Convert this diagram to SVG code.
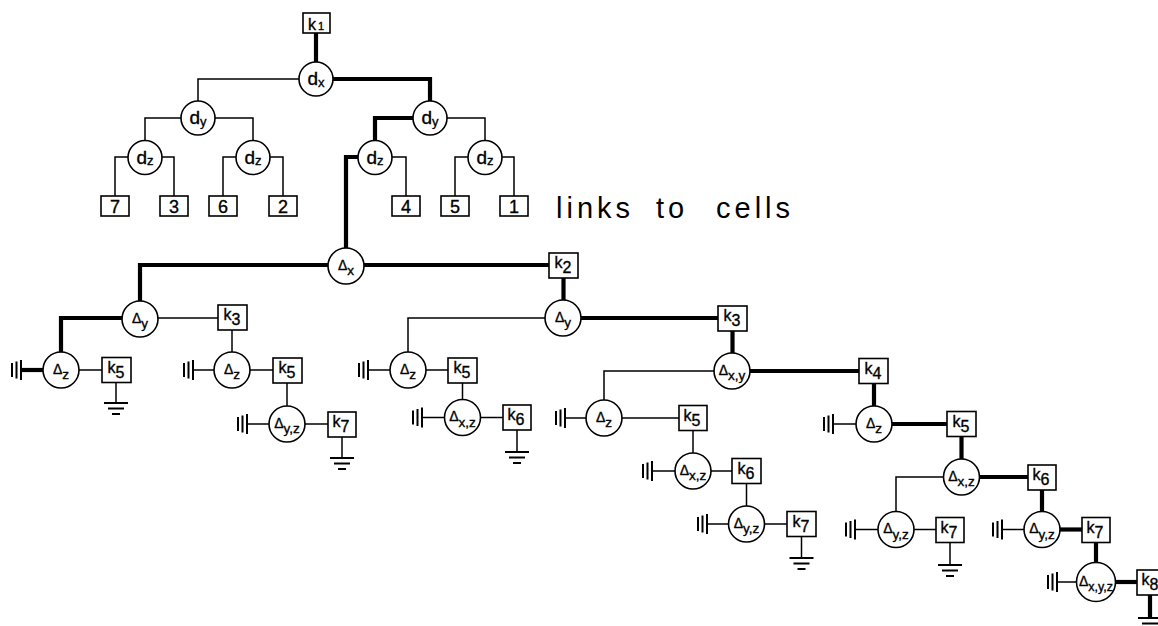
<svg xmlns="http://www.w3.org/2000/svg" xmlns:xlink="http://www.w3.org/1999/xlink" width="1158" height="626" viewBox="0 0 1158 626">
<style>
.bg{fill:#fff}
.c{fill:#fff;stroke:#000;stroke-width:1.6}
.b{fill:#fff;stroke:#000;stroke-width:1.6}
.t{fill:none;stroke:#000;stroke-width:1.5;stroke-linejoin:miter}
.T{fill:none;stroke:#000;stroke-width:4.2;stroke-linejoin:miter}
.g{fill:none;stroke:#000;stroke-width:2}
text{font-family:"Liberation Sans",Arial,sans-serif;fill:#000;text-anchor:middle;stroke:#000;stroke-width:0.35}
.dd{font-size:19px}
.ds{font-size:13px}
.D{font-size:14px}
.Ds{font-size:13.5px}
.Ds3{font-size:12.5px}
.k{font-size:16px}
.kd{font-size:16px}
.n{font-size:18px}
.cap{font-size:29px;letter-spacing:4px;text-anchor:start;stroke:none}
</style>
<defs>
<g id="gl"><path class="g" d="M0,-10V10M-4.5,-8.5V8.5M-9,-7V7"/></g>
<g id="gd"><path class="g" d="M-12,0H12M-8,5.5H8M-4,11H4"/></g>
</defs>
<rect class="bg" width="1158" height="626"/>
<g id="connectors">
<path class="T" d="M316,33V62"/>
<path class="t" d="M299,79H198V101"/>
<path class="T" d="M333,79H430V101"/>
<path class="t" d="M181,118H145V140.5"/>
<path class="t" d="M215,118H253V140.5"/>
<path class="T" d="M413,118H375V140.5"/>
<path class="t" d="M447,118H485V140.5"/>
<path class="t" d="M128,157H115V196"/>
<path class="t" d="M162,157H174V196"/>
<path class="t" d="M236,157H223V196"/>
<path class="t" d="M270,157H283V196"/>
<path class="T" d="M358,157H346V248"/>
<path class="t" d="M392,157H406V196"/>
<path class="t" d="M468,157H455V196"/>
<path class="t" d="M502,157H514V196"/>
<path class="T" d="M328,265H140V301"/>
<path class="T" d="M364,265H549"/>
<path class="T" d="M563.5,278V300"/>
<path class="T" d="M122,318H61V352"/>
<path class="t" d="M158,318H218"/>
<path class="t" d="M232,330V352"/>
<path class="t" d="M79,370H102"/>
<path class="t" d="M250,370H273"/>
<path class="T" d="M43,370H21"/>
<path class="t" d="M214,370H193"/>
<path class="t" d="M287,383V406"/>
<path class="t" d="M269,424H247"/>
<path class="t" d="M305,424H328"/>
<path class="t" d="M116,382.5V403"/>
<path class="t" d="M342,437V458"/>
<path class="t" d="M545,318H408V352"/>
<path class="t" d="M390,370H368"/>
<path class="t" d="M426,370H448"/>
<path class="t" d="M462.5,383V399.5"/>
<path class="t" d="M444.5,417.5H422"/>
<path class="t" d="M480.5,417.5H503"/>
<path class="t" d="M517,430V452"/>
<path class="T" d="M581,318H718"/>
<path class="T" d="M732.5,331V353"/>
<path class="t" d="M714,371H604V400"/>
<path class="t" d="M586,418H565"/>
<path class="t" d="M622,418H679"/>
<path class="t" d="M693,430.5V453"/>
<path class="t" d="M675,471H652"/>
<path class="t" d="M711,471H732"/>
<path class="t" d="M746.5,483.5V506"/>
<path class="t" d="M728.5,524H707"/>
<path class="t" d="M764.5,524H787"/>
<path class="t" d="M801.5,536.5V558"/>
<path class="T" d="M750,371H859"/>
<path class="T" d="M874,383.5V406"/>
<path class="t" d="M856,424H833"/>
<path class="T" d="M892,424H947"/>
<path class="T" d="M961.5,436.5V459"/>
<path class="t" d="M943.5,477H896V511.5"/>
<path class="t" d="M878,529.5H855"/>
<path class="t" d="M914,529.5H936"/>
<path class="t" d="M950,542.5V565"/>
<path class="T" d="M979.5,477H1028"/>
<path class="T" d="M1042,490V511.5"/>
<path class="t" d="M1024,529.5H1002"/>
<path class="T" d="M1060,529.5H1082"/>
<path class="T" d="M1096,542.5V562.5"/>
<path class="t" d="M1076.5,582H1057"/>
<path class="T" d="M1115.5,582H1137"/>
<path class="T" d="M1150,595V618"/>
</g>
<g id="grounds">
<use xlink:href="#gl" x="21" y="370"/>
<use xlink:href="#gl" x="193" y="370"/>
<use xlink:href="#gl" x="247" y="424"/>
<use xlink:href="#gl" x="368" y="370"/>
<use xlink:href="#gl" x="422" y="417.5"/>
<use xlink:href="#gl" x="565" y="418"/>
<use xlink:href="#gl" x="652" y="471"/>
<use xlink:href="#gl" x="707" y="524"/>
<use xlink:href="#gl" x="833" y="424"/>
<use xlink:href="#gl" x="855" y="529.5"/>
<use xlink:href="#gl" x="1002" y="529.5"/>
<use xlink:href="#gl" x="1057" y="582"/>
<use xlink:href="#gd" x="116" y="403"/>
<use xlink:href="#gd" x="342" y="458"/>
<use xlink:href="#gd" x="517" y="452"/>
<use xlink:href="#gd" x="801.5" y="558"/>
<use xlink:href="#gd" x="950" y="565"/>
<use xlink:href="#gd" x="1150" y="618"/>
</g>
<g id="k1"><rect class="b" x="303" y="13" width="27" height="20"/><text class="k" x="316" y="29.5">k<tspan style="font-size:11px" dx="2">1</tspan></text></g>
<g id="dx"><circle class="c" cx="316" cy="79" r="17"/><text class="dd" x="316" y="85">d<tspan class="ds" dy="1.5">x</tspan></text></g>
<g id="dy1"><circle class="c" cx="198" cy="118" r="17"/><text class="dd" x="198" y="124">d<tspan class="ds" dy="1.5">y</tspan></text></g>
<g id="dy2"><circle class="c" cx="430" cy="118" r="17"/><text class="dd" x="430" y="124">d<tspan class="ds" dy="1.5">y</tspan></text></g>
<g id="dz1"><circle class="c" cx="145" cy="157.5" r="17"/><text class="dd" x="145" y="163.5">d<tspan class="ds" dy="1.5">z</tspan></text></g>
<g id="dz2"><circle class="c" cx="253" cy="157.5" r="17"/><text class="dd" x="253" y="163.5">d<tspan class="ds" dy="1.5">z</tspan></text></g>
<g id="dz3"><circle class="c" cx="375" cy="157.5" r="17"/><text class="dd" x="375" y="163.5">d<tspan class="ds" dy="1.5">z</tspan></text></g>
<g id="dz4"><circle class="c" cx="485" cy="157.5" r="17"/><text class="dd" x="485" y="163.5">d<tspan class="ds" dy="1.5">z</tspan></text></g>
<g id="c7"><rect class="b" x="101" y="196" width="28" height="20"/><text class="n" x="115" y="213">7</text></g>
<g id="c3"><rect class="b" x="160" y="196" width="28" height="20"/><text class="n" x="174" y="213">3</text></g>
<g id="c6"><rect class="b" x="209" y="196" width="28" height="20"/><text class="n" x="223" y="213">6</text></g>
<g id="c2"><rect class="b" x="269" y="196" width="28" height="20"/><text class="n" x="283" y="213">2</text></g>
<g id="c4"><rect class="b" x="392" y="196" width="28" height="20"/><text class="n" x="406" y="213">4</text></g>
<g id="c5"><rect class="b" x="441" y="196" width="28" height="20"/><text class="n" x="455" y="213">5</text></g>
<g id="c1"><rect class="b" x="500" y="196" width="28" height="20"/><text class="n" x="514" y="213">1</text></g>
<g id="caption"><text class="cap" y="218"><tspan x="556">links</tspan> <tspan x="656">to</tspan> <tspan x="716">cells</tspan></text></g>
<g id="Dx"><circle class="c" cx="346" cy="266" r="18"/><text class="D" x="346" y="269.5">Δ<tspan class="Ds" dy="5.5">x</tspan></text></g>
<g id="k2"><rect class="b" x="549" y="253" width="29" height="25"/><text class="k" x="563" y="268">k<tspan class="kd" dy="5">2</tspan></text></g>
<g id="Dy1"><circle class="c" cx="140" cy="319" r="18"/><text class="D" x="140" y="322.5">Δ<tspan class="Ds" dy="5.5">y</tspan></text></g>
<g id="k3a"><rect class="b" x="218" y="305" width="29" height="25"/><text class="k" x="232" y="320">k<tspan class="kd" dy="5">3</tspan></text></g>
<g id="Dz1"><circle class="c" cx="61" cy="370" r="18"/><text class="D" x="61" y="373.5">Δ<tspan class="Ds" dy="5.5">z</tspan></text></g>
<g id="k5a"><rect class="b" x="102" y="357.5" width="29" height="25"/><text class="k" x="116" y="372.5">k<tspan class="kd" dy="5">5</tspan></text></g>
<g id="Dz2"><circle class="c" cx="232" cy="370" r="18"/><text class="D" x="232" y="373.5">Δ<tspan class="Ds" dy="5.5">z</tspan></text></g>
<g id="k5b"><rect class="b" x="273" y="358" width="29" height="25"/><text class="k" x="287" y="373">k<tspan class="kd" dy="5">5</tspan></text></g>
<g id="Dyz1"><circle class="c" cx="287" cy="424" r="18"/><text class="D" x="287" y="427.5">Δ<tspan class="Ds" dy="5.5">y,z</tspan></text></g>
<g id="k7a"><rect class="b" x="328" y="412" width="28" height="25"/><text class="k" x="341" y="427">k<tspan class="kd" dy="5">7</tspan></text></g>
<g id="Dy2"><circle class="c" cx="563" cy="318" r="18"/><text class="D" x="563" y="321.5">Δ<tspan class="Ds" dy="5.5">y</tspan></text></g>
<g id="Dz3"><circle class="c" cx="408" cy="370" r="18"/><text class="D" x="408" y="373.5">Δ<tspan class="Ds" dy="5.5">z</tspan></text></g>
<g id="k5c"><rect class="b" x="448" y="358" width="29" height="25"/><text class="k" x="462" y="373">k<tspan class="kd" dy="5">5</tspan></text></g>
<g id="Dxz1"><circle class="c" cx="462.5" cy="417.5" r="18"/><text class="D" x="462.5" y="421">Δ<tspan class="Ds" dy="5.5">x,z</tspan></text></g>
<g id="k6a"><rect class="b" x="503" y="405" width="28" height="25"/><text class="k" x="516" y="420">k<tspan class="kd" dy="5">6</tspan></text></g>
<g id="k3b"><rect class="b" x="718" y="306" width="29" height="25"/><text class="k" x="732" y="321">k<tspan class="kd" dy="5">3</tspan></text></g>
<g id="Dxy"><circle class="c" cx="732" cy="371" r="18"/><text class="D" x="732" y="374.5">Δ<tspan class="Ds" dy="5.5">x,y</tspan></text></g>
<g id="Dz4"><circle class="c" cx="604" cy="418" r="18"/><text class="D" x="604" y="421.5">Δ<tspan class="Ds" dy="5.5">z</tspan></text></g>
<g id="k5d"><rect class="b" x="679" y="405.5" width="28" height="25"/><text class="k" x="692" y="420.5">k<tspan class="kd" dy="5">5</tspan></text></g>
<g id="Dxz2"><circle class="c" cx="693" cy="471" r="18"/><text class="D" x="693" y="474.5">Δ<tspan class="Ds" dy="5.5">x,z</tspan></text></g>
<g id="k6b"><rect class="b" x="732" y="458.5" width="29" height="25"/><text class="k" x="746" y="473.5">k<tspan class="kd" dy="5">6</tspan></text></g>
<g id="Dyz2"><circle class="c" cx="746.5" cy="524" r="18"/><text class="D" x="746.5" y="527.5">Δ<tspan class="Ds" dy="5.5">y,z</tspan></text></g>
<g id="k7b"><rect class="b" x="787" y="511.5" width="29" height="25"/><text class="k" x="801" y="526.5">k<tspan class="kd" dy="5">7</tspan></text></g>
<g id="k4"><rect class="b" x="859" y="358.5" width="29" height="25"/><text class="k" x="873" y="373.5">k<tspan class="kd" dy="5">4</tspan></text></g>
<g id="Dz5"><circle class="c" cx="874" cy="424" r="18"/><text class="D" x="874" y="427.5">Δ<tspan class="Ds" dy="5.5">z</tspan></text></g>
<g id="k5e"><rect class="b" x="947" y="411.5" width="29" height="25"/><text class="k" x="961" y="426.5">k<tspan class="kd" dy="5">5</tspan></text></g>
<g id="Dxz3"><circle class="c" cx="961.5" cy="477" r="18"/><text class="D" x="961.5" y="480.5">Δ<tspan class="Ds" dy="5.5">x,z</tspan></text></g>
<g id="Dyz3"><circle class="c" cx="896" cy="529.5" r="18"/><text class="D" x="896" y="533">Δ<tspan class="Ds" dy="5.5">y,z</tspan></text></g>
<g id="k7c"><rect class="b" x="936" y="517.5" width="28" height="25"/><text class="k" x="949" y="532.5">k<tspan class="kd" dy="5">7</tspan></text></g>
<g id="k6c"><rect class="b" x="1028" y="465" width="28" height="25"/><text class="k" x="1041" y="480">k<tspan class="kd" dy="5">6</tspan></text></g>
<g id="Dyz4"><circle class="c" cx="1042" cy="529.5" r="18"/><text class="D" x="1042" y="533">Δ<tspan class="Ds" dy="5.5">y,z</tspan></text></g>
<g id="k7d"><rect class="b" x="1082" y="517.5" width="28" height="25"/><text class="k" x="1095" y="532.5">k<tspan class="kd" dy="5">7</tspan></text></g>
<g id="Dxyz"><circle class="c" cx="1096" cy="582" r="19.5"/><text class="D" x="1096" y="585.5">Δ<tspan class="Ds3" dy="5">x,y,z</tspan></text></g>
<g id="k8"><rect class="b" x="1137" y="570" width="28" height="25"/><text class="k" x="1150" y="585">k<tspan class="kd" dy="5">8</tspan></text></g>
</svg>
